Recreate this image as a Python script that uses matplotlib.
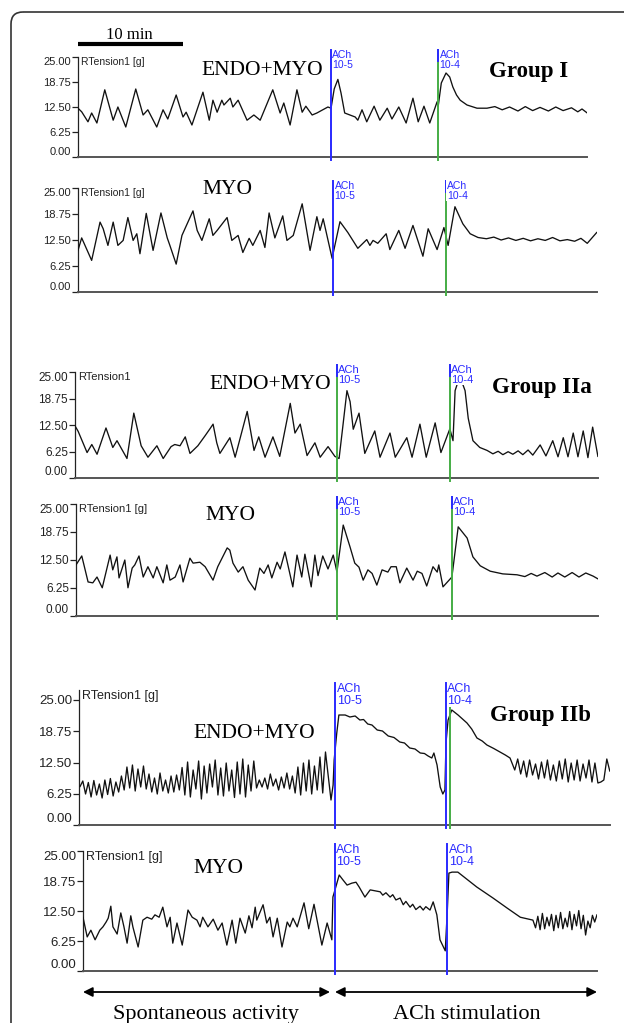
import numpy as np
import matplotlib.pyplot as plt
import matplotlib.transforms as mtrans
from matplotlib.patches import FancyBboxPatch

plt.rcParams['font.family'] = 'Liberation Sans'

# ---------------- data: time (min from trace start), tension (g) ----------------
# Group I, ENDO+MYO
t_g1_endo = [0, 0.35, 0.95, 1.3, 1.8, 2.55, 3.35, 3.8, 4.55, 5.5, 6.2, 6.65, 7.5, 8.1, 8.55,
             9.35, 10.0, 10.3, 10.85, 11.9, 12.5, 12.85, 13.25, 13.7, 13.9, 14.5, 14.75, 15.25,
             16.1, 16.75, 17.35, 18.55, 19.25, 19.6, 20.2, 20.85, 21.35, 21.7, 22.3, 22.75, 23.8,
             24.1, 24.4, 24.75, 25.05, 25.4, 25.9, 26.4, 26.65, 27.05, 27.5, 28.2, 28.75, 29.45,
             29.9, 30.55, 31.25, 31.9, 32.4, 32.95, 33.5, 34.2, 34.3, 34.6, 35.05, 35.4, 35.7,
             36.05, 36.4, 37.05, 38.0, 38.95, 39.7, 40.4, 41.1, 41.9, 42.6, 43.3, 44.0, 44.8,
             45.5, 46.2, 47.0, 47.6, 48.0, 48.5]
v_g1_endo = [12.2, 11.3, 8.8, 11.0, 8.5, 16.8, 9.2, 12.5, 7.5, 17.0, 10.5, 11.8, 7.5, 11.8, 9.5,
             15.5, 10.0, 11.2, 8.0, 16.2, 9.2, 14.2, 11.2, 14.2, 13.0, 14.7, 12.5, 14.2,
             9.2, 10.5, 9.2, 16.8, 11.0, 13.5, 8.0, 16.8, 11.2, 12.7, 10.5, 11.0, 12.5,
             12.2, 17.0, 19.4, 16.0, 11.0, 10.5, 10.0, 9.2, 11.8, 8.8, 12.7, 9.2, 12.2,
             9.5, 12.5, 8.5, 14.7, 8.8, 12.7, 8.5, 13.8, 12.6, 18.5, 21.0, 20.0, 17.5,
             15.5, 14.2, 13.0, 12.2, 12.2, 12.6, 11.8, 12.5, 11.5, 12.6, 11.6, 12.4, 11.5,
             12.5, 11.6, 12.3, 11.3, 12.0, 11.0]
ach_g1_endo = [24.1, 34.3]

# Group I, MYO
t_g1_myo = [0, 0.35, 1.3, 2.1, 2.4, 2.85, 3.35, 3.8, 4.3, 4.75, 5.25, 5.6, 5.9, 6.5, 7.15,
            7.9, 8.5, 8.75, 9.35, 9.9, 10.95, 11.35, 11.8, 12.5, 12.85, 13.25, 14.2, 14.65,
            15.25, 15.7, 16.3, 16.65, 17.35, 17.8, 18.2, 18.75, 19.5, 19.9, 20.5, 21.35, 22.1,
            22.75, 23.05, 23.35, 24.2, 24.95, 25.7, 26.65, 27.5, 27.8, 28.1, 28.55, 29.35, 29.7,
            30.55, 31.15, 31.9, 32.85, 33.35, 34.2, 34.85, 35.25, 35.9, 36.65, 37.35, 38.1,
            38.9, 39.6, 40.3, 41.0, 41.7, 42.4, 43.1, 43.8, 44.5, 45.2, 45.9, 46.6, 47.3,
            47.9, 48.5, 49.4]
v_g1_myo = [10.0, 13.0, 7.6, 16.8, 15.2, 11.2, 16.8, 11.2, 12.4, 17.9, 12.4, 14.0, 9.2, 18.9, 10.0,
            19.0, 13.0, 11.2, 6.7, 13.6, 19.5, 14.8, 12.4, 17.6, 13.6, 14.8, 17.9, 12.4,
            13.6, 9.5, 12.9, 11.2, 14.8, 10.7, 19.0, 13.0, 18.3, 12.4, 13.6, 21.2, 10.0,
            18.1, 14.8, 17.6, 8.1, 16.9, 14.3, 10.5, 12.6, 11.2, 12.4, 11.7, 14.0, 10.2,
            14.8, 10.5, 16.0, 8.6, 15.2, 10.2, 15.5, 11.2, 20.5, 16.4, 14.0, 13.1,
            12.8, 13.2, 12.5, 13.0, 12.4, 12.9, 12.3, 12.8, 12.4, 13.1, 12.3, 12.6, 12.2,
            12.9, 11.7, 14.3]
ach_g1_myo = [24.3, 35.0]

# Group IIa, ENDO+MYO
t_g2a_endo = [0, 0.3, 1.15, 1.6, 2.1, 2.95, 3.6, 4.0, 4.95, 5.6, 6.3, 6.95, 7.8, 8.4, 9.15,
              9.5, 10.0, 10.5, 10.95, 11.7, 12.4, 12.85, 13.15, 13.5, 13.8, 14.75, 15.25, 16.4,
              17.05, 17.5, 18.1, 18.85, 19.5, 20.5, 20.95, 21.45, 22.1, 22.85, 23.35, 24.1, 24.75,
              25.15, 25.5, 25.9, 26.2, 26.5, 27.05, 27.6, 28.55, 29.05, 30.0, 30.5, 31.6, 32.1,
              32.85, 33.45, 34.3, 34.85, 35.7, 36.0, 36.2, 36.65, 37.15, 37.45, 37.9, 38.55,
              39.25, 39.8, 40.3, 40.75, 41.25, 41.7, 42.2, 42.65, 43.15, 43.6, 44.3, 44.85,
              45.5, 46.0, 46.5, 46.95, 47.45, 47.9, 48.4, 48.85, 49.3, 49.8]
v_g2a_endo = [12.3, 11.0, 6.0, 7.9, 5.6, 11.8, 7.2, 8.8, 4.6, 15.3, 7.6, 4.9, 7.6, 4.6, 7.4,
              7.9, 7.6, 9.7, 5.8, 7.6, 10.0, 11.6, 12.7, 8.3, 5.8, 9.5, 4.9, 15.7,
              6.5, 9.7, 4.9, 9.7, 5.1, 17.6, 10.6, 12.7, 5.3, 8.3, 4.9, 7.4, 5.1,
              4.6, 12.0, 20.6, 18.0, 11.5, 15.3, 5.8, 11.1, 4.9, 10.6, 4.9, 9.5, 4.9,
              12.7, 4.9, 13.0, 6.0, 11.6, 8.8, 20.6, 24.0, 20.6, 14.1, 8.8, 7.2,
              6.5, 5.7, 6.3, 5.5, 6.2, 5.6, 6.4, 5.5, 6.6, 5.4, 7.8, 5.2,
              8.8, 5.0, 9.5, 5.0, 10.6, 5.0, 11.1, 4.8, 12.0, 5.1]
ach_g2a_endo = [24.95, 35.7]

# Group IIa, MYO
t_g2a_myo = [0, 0.55, 1.15, 1.6, 2.0, 2.5, 3.25, 3.5, 3.9, 4.1, 4.65, 4.95, 5.35, 5.6, 6.0,
             6.4, 6.85, 7.35, 7.7, 8.3, 8.65, 8.95, 9.45, 9.9, 10.2, 10.85, 11.15, 11.8, 12.3,
             13.05, 13.5, 14.4, 14.65, 14.95, 15.45, 15.9, 16.4, 17.05, 17.5, 17.9, 18.3, 18.65,
             19.15, 19.45, 19.9, 20.65, 21.05, 21.5, 21.8, 22.4, 22.75, 23.05, 23.5, 24.0, 24.5,
             24.85, 25.45, 26.1, 26.55, 26.95, 27.35, 27.8, 28.2, 28.65, 29.15, 29.7, 30.0, 30.5,
             30.85, 31.5, 32.1, 32.5, 32.95, 33.4, 34.0, 34.4, 34.55, 34.95, 35.8, 36.4, 37.25,
             37.8, 38.5, 39.45, 40.65, 42.0, 42.75, 43.35, 43.9, 44.65, 45.35, 45.9, 46.55,
             47.25, 47.9, 48.55, 49.25, 49.7]
v_g2a_myo = [11.4, 13.4, 7.6, 7.4, 8.7, 6.3, 13.6, 10.3, 13.2, 8.5, 12.5, 6.3, 10.7, 11.4, 13.4,
             8.7, 11.0, 8.5, 11.0, 7.4, 11.4, 8.0, 8.7, 11.4, 7.6, 12.9, 11.8, 12.0, 11.0,
             8.0, 11.0, 15.2, 14.7, 11.8, 9.8, 11.0, 8.0, 5.8, 10.7, 9.5, 11.4, 8.5,
             12.0, 10.5, 14.3, 6.5, 13.6, 8.7, 13.8, 6.5, 13.6, 9.0, 13.4, 10.5, 13.6,
             9.8, 20.3, 15.4, 11.8, 10.9, 8.0, 10.3, 9.5, 6.9, 10.3, 9.8, 11.0, 11.0,
             7.4, 10.7, 8.0, 10.0, 9.5, 6.7, 11.0, 9.8, 11.4, 6.5, 8.7, 19.9, 17.4,
             13.2, 11.2, 10.0, 9.4, 9.2, 8.8, 9.5, 8.9, 9.7, 8.7, 9.6, 8.7,
             9.7, 8.7, 9.6, 8.9, 8.3]
ach_g2a_myo = [24.85, 35.8]

# Group IIb, ENDO+MYO  (fast spontaneous rhythm: successive peaks / troughs)
v_g2b_endo_spont = [7.7, 8.8, 6.2, 8.5, 5.6, 8.9, 6.0, 8.2, 5.4, 9.0, 6.1, 9.3, 5.8, 8.6, 6.6, 9.8,
                    7.0, 11.6, 7.4, 12.0, 6.8, 11.2, 7.6, 11.8, 7.2,
                    10.2, 6.6, 9.4, 6.2, 10.4, 6.8, 9.0, 6.4, 9.8, 6.6, 10.0, 7.0,
                    11.5, 6.0, 12.6, 5.6, 11.0, 7.2, 12.8, 5.2, 11.8, 6.4, 12.2, 7.6, 13.0, 6.0,
                    11.4, 5.8, 12.4, 6.8, 11.0,
                    5.5, 12.6, 6.2, 13.2, 5.6, 12.0, 6.8, 12.8, 7.4,
                    9.0, 7.6, 9.4, 7.2, 10.2, 7.8, 9.2, 7.0, 9.6, 7.4, 10.4, 7.2, 9.8,
                    6.4, 11.6, 6.0, 12.4, 6.8, 13.0, 6.2, 11.8, 7.0, 13.6, 6.4, 14.6, 9.8, 5.0]
t_g2b_endo_ach = [24.2, 24.3, 24.55, 24.75, 25.35, 25.8, 26.3, 26.75, 27.1, 27.5, 27.9, 28.4, 28.9,
                  29.45, 30.0, 30.55, 31.0, 31.5, 32.0, 32.5, 32.9, 33.25, 33.6, 33.8, 34.1, 34.4,
                  34.65, 34.85, 34.95, 35.15, 35.5, 36.1, 36.95, 37.4, 37.9, 38.4, 38.85, 39.5,
                  40.1, 40.6, 41.05]
v_g2b_endo_ach = [8.0, 13.0, 18.4, 22.0, 22.0, 21.6, 21.8, 21.0, 21.1, 20.2, 20.0, 19.0, 18.8,
                  17.8, 17.5, 16.6, 16.4, 15.4, 15.2, 14.4, 14.3, 13.8, 13.4, 14.4, 12.0, 7.6,
                  6.2, 7.0, 16.4, 21.0, 23.0, 22.0, 20.4, 19.2, 17.4, 16.8, 16.0, 15.3,
                  14.6, 14.0, 13.4]
v_g2b_endo_tail = [11.0, 13.2, 10.2, 12.8, 9.6, 13.0, 10.0, 12.2, 9.2, 12.6, 9.4, 13.0, 9.0, 12.0,
                   8.8, 12.8, 9.2, 13.2, 8.6, 12.4, 9.0, 13.0, 8.8, 12.2, 9.4, 13.0, 8.6, 12.4,
                   8.4, 8.6, 9.0, 13.2, 10.8]
ach_g2b_endo = [24.4, 34.95]

# Group IIb, MYO
t_g2b_myo = [0, 0.4, 0.75, 1.15, 1.6, 1.9, 2.2, 2.4, 2.65, 2.85, 3.25, 3.6, 3.9, 4.2, 4.55,
             4.75, 5.25, 5.7, 6.1, 6.55, 6.85, 7.25, 7.6, 8.0, 8.3, 8.55, 8.95, 9.45, 10.0, 10.4,
             10.85, 11.15, 11.4, 11.9, 12.4, 12.85, 13.25, 13.7, 14.2, 14.55, 14.95, 15.45, 15.8,
             16.1, 16.4, 16.55, 17.15, 17.5, 17.8, 18.1, 18.5, 18.95, 19.45, 19.7, 20.0, 20.4,
             21.05, 21.5, 22.0, 22.75, 23.25, 23.7,
             23.8, 24.0, 24.4, 24.75, 25.15, 25.6, 26.0, 26.3, 26.85, 27.35, 28.3, 28.55, 28.85,
             29.25, 29.5, 29.8, 30.2, 30.5, 30.75, 31.15, 31.4, 31.7, 32.1, 32.4, 32.65, 33.05,
             33.35, 33.7, 34.0, 34.5, 34.7, 34.85, 35.15, 35.7, 37.5, 39.05, 40.4, 41.65, 42.85]
v_g2b_myo = [11.2, 7.1, 8.5, 6.5, 8.5, 9.2, 10.2, 11.0, 13.5, 9.2, 7.7, 12.1, 9.2, 5.8, 11.5,
             9.2, 5.0, 10.6, 11.2, 10.8, 11.7, 11.2, 13.3, 9.2, 11.2, 5.8, 10.0, 5.4, 12.7, 11.2,
             10.6, 9.2, 11.2, 9.2, 10.8, 8.5, 10.0, 5.4, 10.6, 5.8, 11.0, 7.9, 11.5,
             9.0, 13.3, 10.6, 13.8, 10.0, 11.2, 7.1, 11.0, 5.0, 10.2, 9.2, 11.0, 9.2,
             14.2, 8.8, 13.9, 5.4, 10.0, 6.5,
             15.4, 16.9, 20.0, 19.0, 17.9, 18.3, 18.5, 17.5, 15.4, 16.9, 16.5, 15.8, 16.3,
             15.4, 15.9, 14.8, 15.2, 13.8, 14.5, 13.3, 13.9, 12.8, 13.5, 12.7, 13.4, 12.7,
             14.4, 11.7, 6.5, 4.2, 12.7, 20.4, 20.6, 20.6, 17.5, 15.2, 13.1, 11.2, 10.6]
v_g2b_myo_tail = [9.0, 11.4, 8.6, 12.0, 8.8, 11.2, 9.4, 11.8, 8.4, 11.6, 9.0, 12.2, 8.8, 11.0,
                  9.2, 12.4, 8.6, 11.8, 9.4, 12.6, 8.8, 11.6, 7.5, 10.4, 9.0, 11.6, 10.2, 11.7]
ach_g2b_myo = [24.0, 34.7]

ach_labels = ['ACh\n10-5', 'ACh\n10-4']
ytick_vals = [0, 6.25, 12.5, 18.75, 25]
ytick_text = ['0.00', '6.25', '12.50', '18.75', '25.00']

# assemble the fast-rhythm traces (turning points spaced evenly in time)
t_g2b_endo = (list(np.linspace(0.1, 24.0, len(v_g2b_endo_spont))) + t_g2b_endo_ach
              + list(np.linspace(41.5, 50.55, len(v_g2b_endo_tail))))
v_g2b_endo = v_g2b_endo_spont + v_g2b_endo_ach + v_g2b_endo_tail
t_g2b_myo_all = t_g2b_myo + list(np.linspace(43.1, 48.95, len(v_g2b_myo_tail)))
v_g2b_myo_all = v_g2b_myo + v_g2b_myo_tail

# ---------------- figure ----------------
W, H = 624, 1023
PX_MIN = 10.5
BLUE = '#2a2aff'
GREEN = '#45ad45'
SERIF = 'Liberation Serif'

fig = plt.figure(figsize=(W / 100, H / 100), dpi=100)
ov = fig.add_axes([0, 0, 1, 1])
ov.set_xlim(0, W)
ov.set_ylim(H, 0)
ov.axis('off')

panels = [
    dict(t=t_g1_endo, v=v_g1_endo, ach=ach_g1_endo, x0=78, x1=587, y0=157, top=57, ymax=25,
         cols=[BLUE, GREEN], unit='RTension1 [g]', fs=8),
    dict(t=t_g1_myo, v=v_g1_myo, ach=ach_g1_myo, x0=78, x1=597, y0=292, top=188, ymax=25,
         cols=[BLUE, GREEN], unit='RTension1 [g]', fs=8),
    dict(t=t_g2a_endo, v=v_g2a_endo, ach=ach_g2a_endo, x0=75, x1=598, y0=478, top=372, ymax=25,
         cols=[GREEN, GREEN], unit='RTension1', fs=8.5),
    dict(t=t_g2a_myo, v=v_g2a_myo, ach=ach_g2a_myo, x0=76, x1=598, y0=616, top=504, ymax=25,
         cols=[GREEN, GREEN], unit='RTension1 [g]', fs=8.5),
    dict(t=t_g2b_endo, v=v_g2b_endo, ach=ach_g2b_endo, x0=79, x1=610, y0=825, top=690, ymax=27,
         cols=[BLUE, BLUE], unit='RTension1 [g]', fs=9.5),
    dict(t=t_g2b_myo_all, v=v_g2b_myo_all, ach=ach_g2b_myo, x0=83, x1=597, y0=971, top=851, ymax=25,
         cols=[BLUE, BLUE], unit='RTension1 [g]', fs=9.5),
]

for i, p in enumerate(panels):
    hpx = p['y0'] - p['top']
    ax = fig.add_axes([p['x0'] / W, 1 - p['y0'] / H, (p['x1'] - p['x0']) / W, hpx / H])
    ax.set_facecolor('none')
    ax.plot(p['t'], p['v'], color='#111111', lw=0.95, zorder=3)
    ax.set_xlim(0, (p['x1'] - p['x0']) / PX_MIN)
    ax.set_ylim(0, p['ymax'])
    for s in ['top', 'right']:
        ax.spines[s].set_visible(False)
    ax.spines['left'].set_color('#222222')
    ax.spines['left'].set_linewidth(0.9)
    ax.spines['bottom'].set_color('#555555')
    ax.spines['bottom'].set_linewidth(1.4)
    ax.set_xticks([])
    ax.set_yticks(ytick_vals)
    ax.set_yticklabels(ytick_text)
    ax.tick_params(axis='y', length=4, width=0.9, pad=1, labelsize=p['fs'], colors='#222222')
    labs = ax.get_yticklabels()
    labs[0].set_va('bottom')
    if p['ymax'] == 25:
        labs[-1].set_va('top')

    ax.text(3 / (p['x1'] - p['x0']), 1.0, p['unit'], transform=ax.transAxes, ha='left', va='top',
            fontsize=p['fs'] - 0.5, color='#222222')

    # ACh markers
    trans = mtrans.blended_transform_factory(ax.transData, ax.transAxes)
    f_top = (hpx + 7) / hpx
    f_bot = -3 / hpx
    f_stub = (hpx - 4) / hpx
    for k, tm in enumerate(p['ach']):
        ax.plot([tm, tm], [f_bot, f_top], transform=trans, color=p['cols'][k], lw=1.4,
                clip_on=False, zorder=4)
        if p['cols'][k] != BLUE:
            ax.plot([tm, tm], [f_stub, f_top], transform=trans, color=BLUE, lw=1.4,
                    clip_on=False, zorder=4)
        ax.annotate(ach_labels[k], xy=(tm, f_top), xycoords=trans, xytext=(1.0, 0),
                    textcoords='offset points', ha='left', va='top', fontsize=p['fs'] - 0.5,
                    color=BLUE, linespacing=0.95, annotation_clip=False, zorder=6,
                    bbox=dict(boxstyle='square,pad=0.05', fc='white', ec='none'))
    if i == 4:
        tg = p['ach'][1] + 4 / PX_MIN
        ax.plot([tg, tg], [f_bot, (p['y0'] - 700) / hpx], transform=trans, color=GREEN, lw=1.4,
                clip_on=False, zorder=4)

# frame
ov.add_patch(FancyBboxPatch((11, 12), 900, 1200, boxstyle='round,pad=0,rounding_size=12',
                            fill=False, ec='#333333', lw=1.2))

# scale bar
ov.plot([78, 183], [44, 44], color='black', lw=3, solid_capstyle='butt')
ov.text(106, 39, '10 min', fontsize=12, family=SERIF, ha='left', va='baseline')

# tissue labels
for x, y, s in [(201, 75, 'ENDO+MYO'), (202, 194, 'MYO'), (209, 389, 'ENDO+MYO'),
                (205, 520, 'MYO'), (193, 738, 'ENDO+MYO'), (193, 873, 'MYO')]:
    ov.text(x, y, s, fontsize=15.5, family=SERIF, ha='left', va='baseline')

for x, y, s in [(489, 77, 'Group I'), (492, 393, 'Group IIa'), (490, 721, 'Group IIb')]:
    ov.text(x, y, s, fontsize=16.5, family=SERIF, weight='bold', ha='left', va='baseline')

# bottom arrows
for xa, xb in [(83, 330), (335, 597)]:
    ov.annotate('', xy=(xb, 992), xytext=(xa, 992),
                arrowprops=dict(arrowstyle='<|-|>', color='black', lw=1.3, mutation_scale=14,
                                shrinkA=0, shrinkB=0))
ov.text(206, 1019, 'Spontaneous activity', fontsize=16, family=SERIF, ha='center', va='baseline')
ov.text(467, 1019, 'ACh stimulation', fontsize=16, family=SERIF, ha='center', va='baseline')

fig.savefig('out.png', dpi=100)
